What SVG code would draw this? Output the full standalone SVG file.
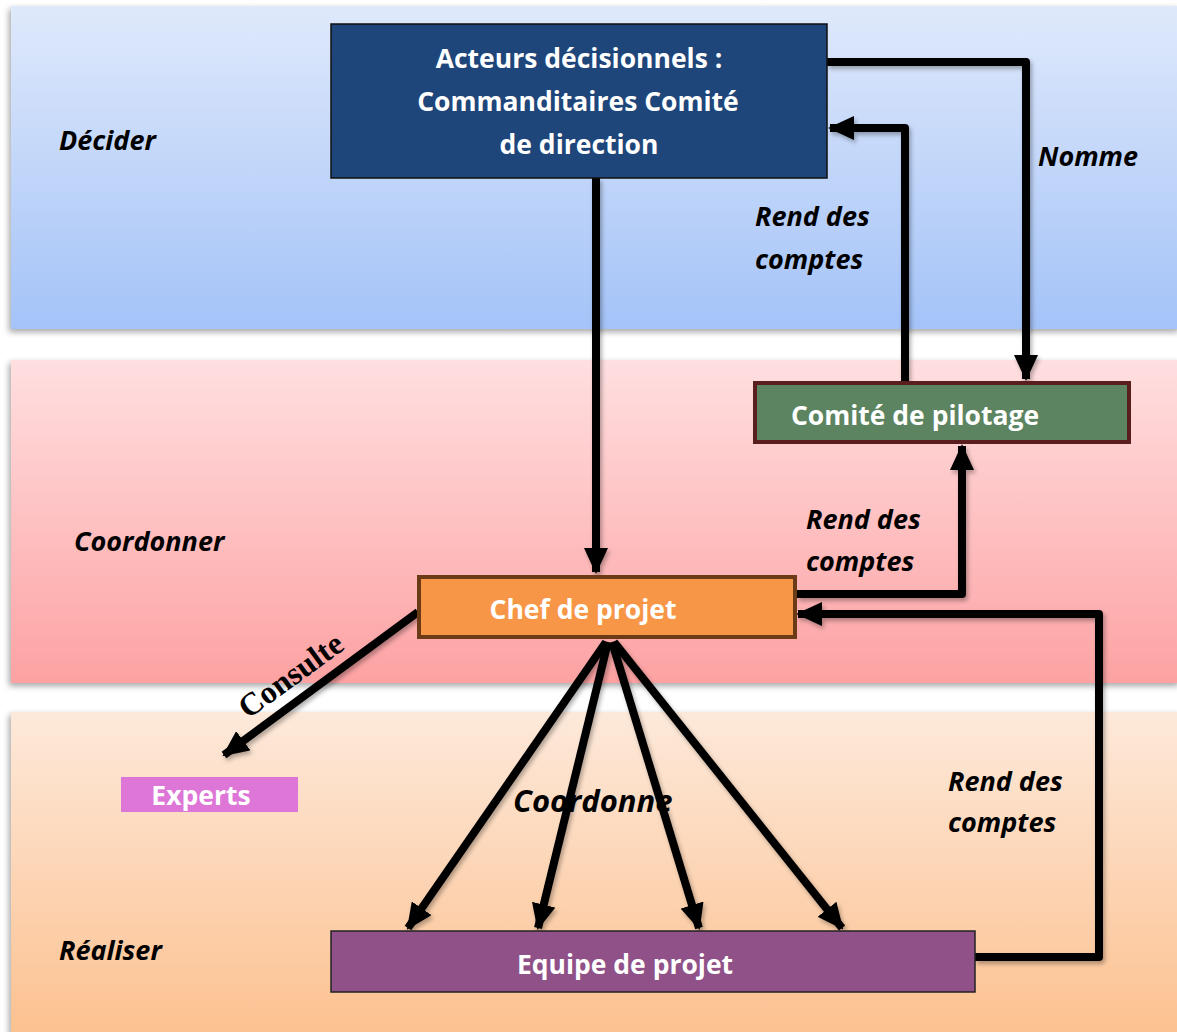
<svg xmlns="http://www.w3.org/2000/svg" width="1177" height="1032" viewBox="0 0 1177 1032">
<defs>
<linearGradient id="gBlue" x1="0" y1="0" x2="0" y2="1">
<stop offset="0" stop-color="#dfe9fb"/><stop offset="1" stop-color="#a4c3f8"/>
</linearGradient>
<linearGradient id="gPink" x1="0" y1="0" x2="0" y2="1">
<stop offset="0" stop-color="#ffdfe0"/><stop offset="1" stop-color="#fda2a3"/>
</linearGradient>
<linearGradient id="gPeach" x1="0" y1="0" x2="0" y2="1">
<stop offset="0" stop-color="#fde9da"/><stop offset="1" stop-color="#fcc08e"/>
</linearGradient>
<filter id="sh" x="-5%" y="-5%" width="110%" height="115%">
<feDropShadow dx="-2" dy="3" stdDeviation="3" flood-color="#000" flood-opacity="0.35"/>
</filter>
<filter id="lsh" x="-20%" y="-20%" width="140%" height="140%">
<feDropShadow dx="2" dy="3" stdDeviation="2" flood-color="#000" flood-opacity="0.3"/>
</filter>
<marker id="ah" markerUnits="userSpaceOnUse" markerWidth="26" markerHeight="24" refX="24" refY="12" orient="auto">
<path d="M0,0 L26,12 L0,24 Z" fill="#000"/>
</marker>
<style>
.lbl{font-family:"Open Sans","Liberation Sans",sans-serif;font-weight:bold;font-style:italic;fill:#000;font-size:27px;}
.nt{font-family:"Open Sans","Liberation Sans",sans-serif;font-weight:bold;fill:#fff;text-anchor:middle;font-size:26.5px;}
.cn{fill:none;stroke:#000;stroke-width:8;stroke-linejoin:round;}
</style>
</defs>
<rect width="1177" height="1032" fill="#fff"/>
<g id="bands">
<rect x="11" y="6" width="1170" height="323" fill="url(#gBlue)" filter="url(#sh)"/>
<rect x="11" y="360" width="1170" height="323" fill="url(#gPink)" filter="url(#sh)"/>
<rect x="11" y="712" width="1170" height="330" fill="url(#gPeach)" filter="url(#sh)"/>
</g>
<g id="lane-labels">
<text class="lbl" x="59" y="150">Décider</text>
<text class="lbl" x="74" y="551">Coordonner</text>
<text class="lbl" x="59" y="960">Réaliser</text>
</g>
<g id="connectors" filter="url(#lsh)">
<path class="cn" d="M596,178 L596,572" marker-end="url(#ah)"/>
<path class="cn" d="M827,62 L1026,62 L1026,379" marker-end="url(#ah)"/>
<path class="cn" d="M905,381 L905,128 L830,128" marker-end="url(#ah)"/>
<path class="cn" d="M797,594 L962,594 L962,446" marker-end="url(#ah)"/>
<path class="cn" d="M975,957 L1099,957 L1099,614 L798,614" marker-end="url(#ah)"/>
<path class="cn" d="M418,612 L224,755" marker-end="url(#ah)"/>
<path class="cn" d="M606,642 L408,928" marker-end="url(#ah)"/>
<path class="cn" d="M608,642 L538,928" marker-end="url(#ah)"/>
<path class="cn" d="M612,642 L699,928" marker-end="url(#ah)"/>
<path class="cn" d="M614,642 L842,928" marker-end="url(#ah)"/>
</g>
<g id="edge-labels">
<text class="lbl" x="1038" y="166">Nomme</text>
<text class="lbl" x="755" y="226">Rend des</text>
<text class="lbl" x="755" y="269">comptes</text>
<text class="lbl" x="806" y="529">Rend des</text>
<text class="lbl" x="806" y="571">comptes</text>
<text class="lbl" x="948" y="791">Rend des</text>
<text class="lbl" x="948" y="832">comptes</text>
<text class="lbl" x="513" y="812" style="font-size:31px">Coordonne</text>
<text x="0" y="0" transform="translate(297,684) rotate(-36)" font-family="'Liberation Serif',serif" font-weight="bold" font-size="32" text-anchor="middle" fill="#000">Consulte</text>
</g>
<g id="node-direction">
<rect x="331" y="24" width="496" height="154" fill="#1f467a" stroke="#111" stroke-width="1.5"/>
<text class="nt" x="579" y="68">Acteurs décisionnels :</text>
<text class="nt" x="578" y="111">Commanditaires Comité</text>
<text class="nt" x="579" y="154">de direction</text>
</g>
<g id="node-pilotage">
<rect x="755" y="383" width="374" height="59" fill="#5c8460" stroke="#5a1e1e" stroke-width="4"/>
<text class="nt" x="915" y="425">Comité de pilotage</text>
</g>
<g id="node-chef">
<rect x="419" y="577" width="376" height="60" fill="#f79646" stroke="#6b3a16" stroke-width="4"/>
<text class="nt" x="583" y="619">Chef de projet</text>
</g>
<g id="node-experts">
<rect x="121" y="777" width="177" height="35" fill="#dd76d6"/>
<text class="nt" x="201" y="805">Experts</text>
</g>
<g id="node-equipe">
<rect x="331" y="931" width="644" height="61" fill="#8f5188" stroke="#222" stroke-width="1.5"/>
<text class="nt" x="625" y="974">Equipe de projet</text>
</g>
</svg>
